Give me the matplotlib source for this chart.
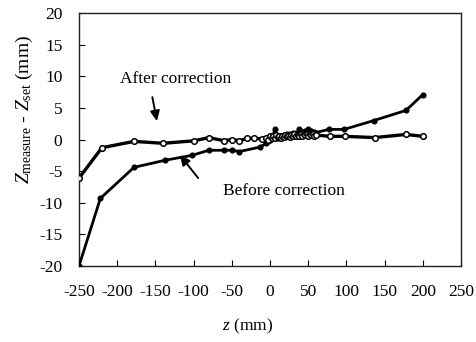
import matplotlib
matplotlib.use("Agg")
import matplotlib.pyplot as plt

plt.rcParams['font.family'] = ['Liberation Serif', 'DejaVu Serif']
plt.rcParams['mathtext.fontset'] = 'custom'
plt.rcParams['mathtext.rm'] = 'Liberation Serif'
plt.rcParams['mathtext.it'] = 'Liberation Serif:italic'

# Before correction (filled markers)
z_before = [-250, -222, -178, -138, -102, -80, -60, -50, -40, -13,
            -5, -2, 0, 2, 4, 6, 8, 10, 12, 14, 16, 18, 20, 22, 24, 26, 28, 30,
            32, 34, 36, 38, 40, 42, 44, 46, 48, 50, 52, 54, 56, 58, 60,
            77, 97, 136, 178, 200]
d_before = [-20.0, -9.3, -4.4, -3.3, -2.5, -1.7, -1.7, -1.7, -1.9, -1.2,
            -0.6, -0.3, 0.0, 0.3, 0.5, 1.6, 0.4, 0.2, 0.6, 0.3, 0.5, 0.7, 0.4, 0.8, 0.5, 0.9, 0.6, 1.0,
            0.7, 1.1, 0.8, 1.6, 0.9, 1.2, 0.8, 1.3, 1.0, 1.7, 1.1, 1.4, 1.0, 1.2, 1.1,
            1.6, 1.6, 3.0, 4.6, 7.1]

# After correction (open markers)
z_after = [-250, -220, -178, -140, -99, -80, -60, -50, -40, -30, -21,
           -10, -5, -2, 0, 2, 4, 6, 8, 10, 12, 14, 16, 18, 20, 22, 24, 26, 28, 30,
           32, 34, 36, 38, 40, 42, 44, 46, 48, 50, 52, 54, 56, 58, 60,
           78, 98, 137, 178, 200]
d_after = [-6.1, -1.3, -0.3, -0.6, -0.2, 0.3, -0.2, 0.0, -0.2, 0.2, 0.2,
           0.1, 0.3, 0.0, 0.5, 0.2, 0.6, 0.3, 0.7, 0.4, 0.5, 0.3, 0.6, 0.4, 0.7, 0.5, 0.6, 0.4, 0.7, 0.5,
           0.8, 0.6, 0.7, 0.5, 0.8, 0.6, 0.9, 0.7, 0.8, 0.6, 0.9, 0.7, 0.8, 0.6, 0.7,
           0.5, 0.5, 0.3, 0.8, 0.5]

x_ticks = [-250, -200, -150, -100, -50, 0, 50, 100, 150, 200, 250]
y_ticks = [-20, -15, -10, -5, 0, 5, 10, 15, 20]

fig = plt.figure(figsize=(4.77, 3.42), dpi=100)
ax = fig.add_axes([79/477, 1-266/342, 382/477, 253/342])

ax.plot(z_before, d_before, color='black', lw=2.0, marker='o', ms=3.4,
        mfc='black', mec='black', zorder=3)
ax.plot(z_after, d_after, color='black', lw=2.4, marker='o', ms=4.0,
        mfc='white', mec='black', mew=1.1, zorder=4)

ax.set_xlim(-250, 250)
ax.set_ylim(-20, 20)
ax.set_xticks(x_ticks)
ax.set_yticks(y_ticks)
ax.set_xticklabels([str(v) for v in x_ticks])
ax.set_yticklabels([str(v) for v in y_ticks])
ax.tick_params(direction='in', length=4, width=0.8, labelsize=12.5)
ax.tick_params(axis='x', pad=13)
ax.tick_params(axis='y', pad=12)
for s in ax.spines.values():
    s.set_linewidth(1.0)
    s.set_color('#222222')

ax.set_xlabel(r'$z$ (mm)', fontsize=12.5)
ax.xaxis.set_label_coords(0.44, -0.2)
ax.set_ylabel(r'$Z_{\rm measure}$ - $Z_{\rm set}$ (mm)', fontsize=14)
ax.yaxis.set_label_coords(-0.115, 0.62)

arrow_kw = dict(arrowstyle='-|>,head_length=0.6,head_width=0.28',
                color='black', lw=1.4, shrinkA=0, shrinkB=0)
ax.text(-124, 9.6, 'After correction', ha='center', va='center', fontsize=12.5)
ax.annotate('', xy=(-148, 2.9), xytext=(-154, 6.7), arrowprops=arrow_kw)
ax.text(18, -8.1, 'Before correction', ha='center', va='center', fontsize=12.5)
ax.annotate('', xy=(-118, -2.45), xytext=(-94, -6.1), arrowprops=arrow_kw)

fig.savefig('out.png', dpi=100)
